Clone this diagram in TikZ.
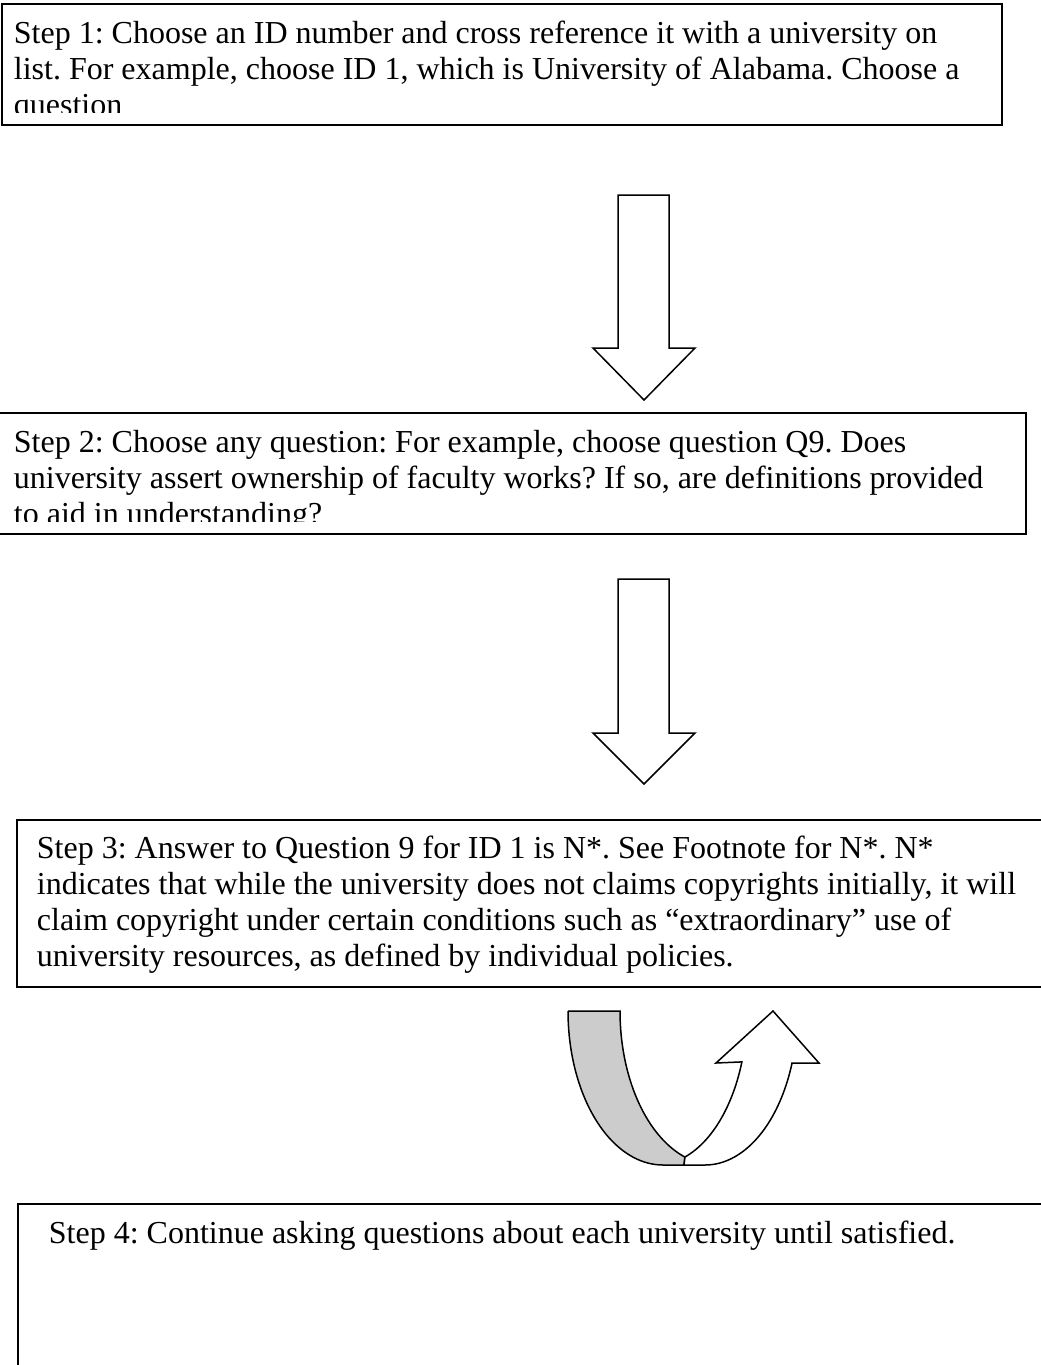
\documentclass[tikz,border=0pt]{standalone}
\usepackage{fontspec}
\setmainfont{Liberation Serif}
\usepackage{tikz}
\frenchspacing
\definecolor{bandgray}{RGB}{204,204,204}
\definecolor{edgeblack}{RGB}{0,0,0}
\tikzset{
  stepbox/.style={rectangle, draw=edgeblack, line width=1pt, inner sep=0pt,
    anchor=north west},
  steptext/.style={anchor=base west, inner sep=0pt, align=left,
    font=\fontsize{16}{18}\selectfont},
  blockarrow/.style={draw=edgeblack, fill=white, line width=0.75pt},
  backband/.style={draw=edgeblack, fill=bandgray, line width=0.75pt},
  frontband/.style={draw=edgeblack, fill=white, line width=0.75pt}
}

\begin{document}
\begin{tikzpicture}[x=0.5pt, y=-0.5pt]
  \useasboundingbox (0,0) rectangle (1040,1365);
  % step boxes
  \node[stepbox, minimum width=500pt, minimum height=60.5pt] (s1) at (1,3) {};
  \node[stepbox, minimum width=513.5pt, minimum height=60.5pt] (s2) at (-2,412) {};
  \node[stepbox, minimum width=515pt, minimum height=83.5pt] (s3) at (16,819) {};
  \node[stepbox, minimum width=514.5pt, minimum height=83.5pt] (s4) at (17,1203) {};
  % texts (base = last line), clipped like the boxes
  \begin{scope}
    \clip (1,3) rectangle (1001,112);
    \node[steptext] (t1) at (13.5,115) {Step 1: Choose an ID number and cross reference it with a university on\\
      list. For example, choose ID 1, which is University of Alabama. Choose a\\
      question};
  \end{scope}
  \begin{scope}
    \clip (0,412) rectangle (1025,521);
    \node[steptext] (t2) at (13.5,524) {Step 2: Choose any question: For example, choose question Q9. Does\\
      university assert ownership of faculty works? If so, are definitions provided\\
      to aid in understanding?};
  \end{scope}
  \node[steptext] (t3) at (36.5,966) {Step 3: Answer to Question 9 for ID 1 is N*. See Footnote for N*. N*\\
    indicates that while the university does not claims copyrights initially, it will\\
    claim copyright under certain conditions such as “extraordinary” use of\\
    university resources, as defined by individual policies.};
  \node[steptext] (t4) at (48.5,1243) {Step 4: Continue asking questions about each university until satisfied.};
  % block arrows
  \draw[blockarrow] (618,195) -- (669,195) -- (669,348) -- (695,348) -- (644,400)
    -- (593,348) -- (618,348) -- cycle;
  \draw[blockarrow] (618,579) -- (669,579) -- (669,733) -- (695,733) -- (644,784)
    -- (593,733) -- (618,733) -- cycle;
  % curved up arrow
  \filldraw[backband] (568,1011) -- (620,1011)
    -- plot[domain=180:108.5, variable=\t, samples=40] ({715+95*cos(\t)}, {1011+154*sin(\t)})
    -- (684,1165)
    -- plot[domain=90:180, variable=\t, samples=40] ({663+95*cos(\t)}, {1011+154*sin(\t)})
    -- cycle;
  \filldraw[frontband] (685,1157)
    -- plot[domain=71.4:19.3, variable=\t, samples=40] ({656+91*cos(\t)}, {1011+154*sin(\t)})
    -- (716,1063) -- (773,1011) -- (819,1063) -- (792,1063)
    -- plot[domain=19.8:90, variable=\t, samples=40] ({705+92.5*cos(\t)}, {1011+154*sin(\t)})
    -- (684,1165) -- cycle;
\end{tikzpicture}
\end{document}
